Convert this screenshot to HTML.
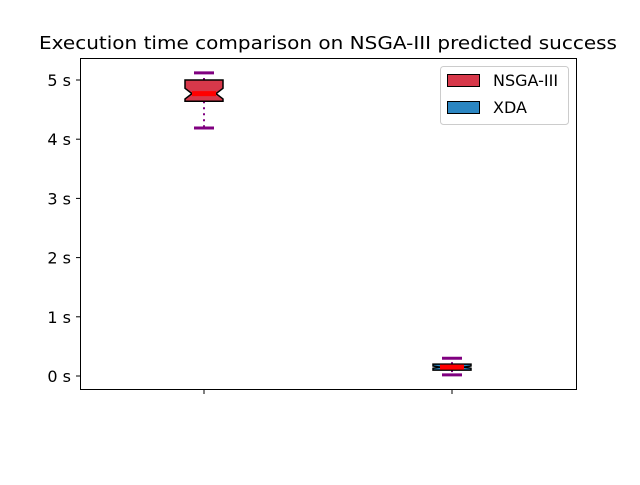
<!DOCTYPE html>
<html><head><meta charset="utf-8"><style>
body{margin:0;background:#fff}
text{font-family:"DejaVu Sans","Liberation Sans",sans-serif}
</style></head><body>
<svg id="chart" width="640" height="480" xmlns="http://www.w3.org/2000/svg">
<rect width="640" height="480" fill="#fff"/>
<text x="328" y="49" font-size="17.5" text-anchor="middle" textLength="578" lengthAdjust="spacingAndGlyphs">Execution time comparison on NSGA-III predicted success</text>
<g id="plot"></g>
<rect x="80.5" y="58.5" width="496" height="331" fill="none" stroke="#000" stroke-width="1"/>
<g>
<rect x="440.5" y="66.5" width="128" height="58" rx="3" fill="#fff" stroke="#ccc"/>
<rect x="447.5" y="74.5" width="32" height="12" fill="#d7384a" stroke="#000"/>
<text x="493" y="86" font-size="16">NSGA-III</text>
<rect x="447.5" y="101.5" width="32" height="12" fill="#2b86c2" stroke="#000"/>
<text x="493" y="113" font-size="16">XDA</text>
</g>
</svg>
<script>
const categories=["NSGA-III","XDA"];
const whiskLow=[4.19,0.02];
const q1=[4.64,0.10];
const medians=[4.77,0.15];
const q3=[5.0,0.20];
const whiskHigh=[5.12,0.30];
const notchHalf=[0.09,0.02];
const colors=["#d7384a","#2b86c2"];
const yTicks=[0,1,2,3,4,5];
const yTickLabels=["0 s","1 s","2 s","3 s","4 s","5 s"];
const ns="http://www.w3.org/2000/svg";
const g=document.getElementById('plot');
const y=v=>376-v*59.2;
const x=i=>204+i*248;
function mk(t,a){const e=document.createElementNS(ns,t);for(const k in a)e.setAttribute(k,a[k]);g.appendChild(e);return e;}
yTicks.forEach((t,i)=>{
 const l=mk('line',{x1:76,x2:80,y1:y(t),y2:y(t),stroke:'#000'});
 
 
 const tx=mk('text',{x:71,y:y(t)+6,'font-size':16,'text-anchor':'end'});
 tx.textContent=yTickLabels[i];
 
 
});
categories.forEach((c,i)=>{
 const cx=x(i),hw=19,ind=7;
 const tk=mk('line',{x1:cx,x2:cx,y1:390,y2:394,stroke:'#000'});
 
 
 const w1=mk('line',{x1:cx,x2:cx,y1:y(q3[i]),y2:y(whiskHigh[i]),stroke:'#800080','stroke-width':2,'stroke-dasharray':'2,4'});
 
 
 const w2=mk('line',{x1:cx,x2:cx,y1:y(q1[i]),y2:y(whiskLow[i]),stroke:'#800080','stroke-width':2,'stroke-dasharray':'2,4'});
 
 
 [whiskHigh[i],whiskLow[i]].forEach(v=>{
  const cp=mk('line',{x1:cx-10,x2:cx+10,y1:y(v),y2:y(v),stroke:'#800080','stroke-width':3});
  
  
 });
 const nt=Math.min(q3[i],medians[i]+notchHalf[i]),nb=Math.max(q1[i],medians[i]-notchHalf[i]);
 const pts=[[cx-hw,y(q1[i])],[cx-hw,y(nb)],[cx-hw+ind,y(medians[i])],[cx-hw,y(nt)],[cx-hw,y(q3[i])],[cx+hw,y(q3[i])],[cx+hw,y(nt)],[cx+hw-ind,y(medians[i])],[cx+hw,y(nb)],[cx+hw,y(q1[i])]];
 const b=mk('polygon',{points:pts.map(p=>p.join(',')).join(' '),fill:colors[i],stroke:'#000','stroke-width':1.5});
 
 
 const m=mk('line',{x1:cx-hw+ind,x2:cx+hw-ind,y1:y(medians[i]),y2:y(medians[i]),stroke:'#ff0000','stroke-width':5});
 
 
});
</script>
</body></html>
